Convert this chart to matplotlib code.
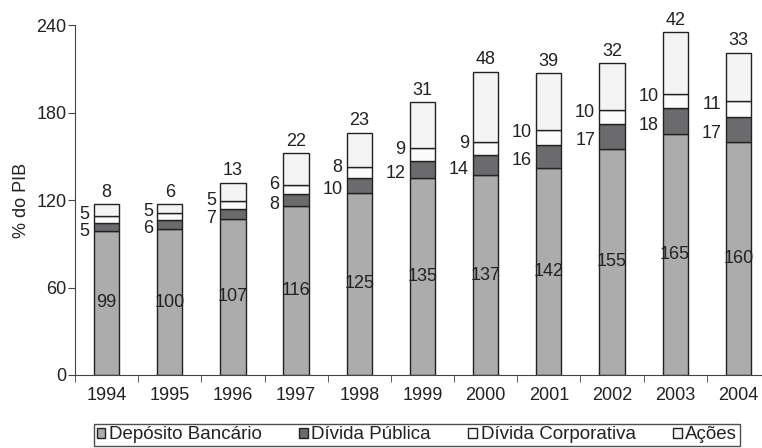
import matplotlib.pyplot as plt
import numpy as np

plt.rcParams['font.family'] = ['Liberation Sans', 'DejaVu Sans']

anos = ['1994', '1995', '1996', '1997', '1998', '1999', '2000', '2001', '2002', '2003', '2004']
deposito = [99, 100, 107, 116, 125, 135, 137, 142, 155, 165, 160]
publica = [5, 6, 7, 8, 10, 12, 14, 16, 17, 18, 17]
corporativa = [5, 5, 5, 6, 8, 9, 9, 10, 10, 10, 11]
acoes = [8, 6, 13, 22, 23, 31, 48, 39, 32, 42, 33]

nomes = ['Depósito Bancário', 'Dívida Pública', 'Dívida Corporativa', 'Ações']
cores = ['#acacac', '#6b6b6d', '#fbfbfb', '#f3f4f3']

fig = plt.figure(figsize=(7.62, 4.48), dpi=100)
ax = fig.add_axes([0.0984, 0.163, 0.912, 0.781])

x = np.arange(len(anos))
w = 0.4
base = np.zeros(len(anos))
barras = []
for vals, cor, nome in zip([deposito, publica, corporativa, acoes], cores, nomes):
    b = ax.bar(x, vals, w, bottom=base, color=cor, edgecolor='#222222', linewidth=1.0, label=nome)
    barras.append(b)
    base = base + np.array(vals)

fs = 13
txt = '#222222'
# rotulos das barras
for i in range(len(anos)):
    d, p, c, a = deposito[i], publica[i], corporativa[i], acoes[i]
    ax.text(x[i], d / 2, str(d), ha='center', va='center', fontsize=fs, color=txt)
    ax.annotate(str(p), (x[i] - w / 2, d + p / 2), xytext=(-3, -3), textcoords='offset points',
                ha='right', va='center', fontsize=fs, color=txt)
    ax.annotate(str(c), (x[i] - w / 2, d + p + c / 2), xytext=(-3, 3.5), textcoords='offset points',
                ha='right', va='center', fontsize=fs, color=txt)
    ax.annotate(str(a), (x[i], d + p + c + a), xytext=(0, 2.5), textcoords='offset points',
                ha='center', va='bottom', fontsize=fs, color=txt)

ax.set_ylim(0, 240)
ax.set_xlim(-0.5, len(anos) - 0.5)
ax.set_yticks([0, 60, 120, 180, 240])
ax.tick_params(axis='y', labelsize=fs, length=5, color='#444444', pad=1, labelcolor=txt)
ax.set_xticks(x)
ax.set_xticklabels(anos)
ax.set_xticks(np.arange(-0.5, len(anos), 1), minor=True)
ax.tick_params(axis='x', which='major', length=0, labelsize=fs, pad=9, labelcolor=txt)
ax.tick_params(axis='x', which='minor', length=5, color='#444444')
ax.spines['top'].set_visible(False)
ax.spines['right'].set_visible(False)
for s in ['left', 'bottom']:
    ax.spines[s].set_color('#444444')
ax.set_ylabel('% do PIB', fontsize=fs, labelpad=5, color=txt)

leg = fig.legend(handles=barras, labels=nomes, loc='lower center', bbox_to_anchor=(0.547, 0.0),
                 ncol=4, fontsize=13.5, frameon=True, fancybox=False, handlelength=0.45,
                 handleheight=0.45, handletextpad=0.2, columnspacing=2.0, borderpad=0.15,
                 borderaxespad=0.1)
leg.get_frame().set_edgecolor('#222222')
leg.get_frame().set_linewidth(1.0)
for t in leg.get_texts():
    t.set_color(txt)

fig.savefig('out.png', dpi=100)
